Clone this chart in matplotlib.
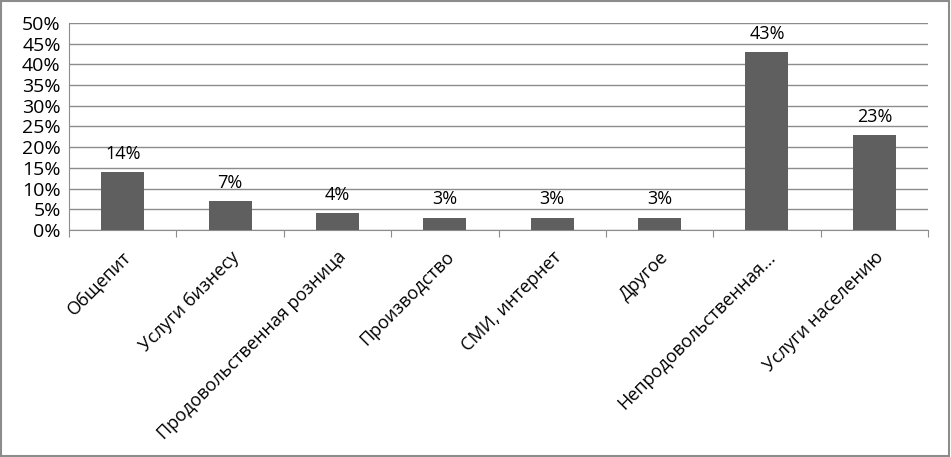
import matplotlib
matplotlib.use('Agg')
import matplotlib.pyplot as plt
from matplotlib.ticker import MultipleLocator, FuncFormatter
from matplotlib.patches import Rectangle

categories = ['Общепит', 'Услуги бизнесу', 'Продовольственная розница',
              'Производство', 'СМИ, интернет', 'Другое',
              'Непродовольственная...', 'Услуги населению']
values = [14, 7, 4, 3, 3, 3, 43, 23]

plt.rcParams['font.family'] = ['Open Sans', 'DejaVu Sans']

fig = plt.figure(figsize=(9.51, 4.57), dpi=100)
ax = fig.add_axes([69/951, 1 - 230/457, (928-69)/951, (230-23)/457])

x = list(range(len(categories)))
bars = ax.bar(x, values, width=0.4, color='#5f5f5f', zorder=3)

for xi, v in zip(x, values):
    ax.text(xi, v + 2.2, f'{v}%', ha='center', va='bottom', fontsize=13)

ax.set_xlim(-0.5, len(categories) - 0.5)
ax.set_ylim(0, 50)
ax.yaxis.set_major_locator(MultipleLocator(5))
ax.yaxis.set_major_formatter(FuncFormatter(lambda v, p: f'{v:.0f}%'))
ax.grid(axis='y', color='#8c8c8c', linewidth=1, zorder=0)
ax.tick_params(axis='y', length=0, labelsize=14, pad=6)

# category ticks sit on the boundaries between categories
ax.set_xticks([i - 0.5 for i in range(len(categories) + 1)], minor=False)
ax.set_xticklabels([])
ax.set_xticks(x, minor=True)
ax.set_xticklabels(categories, minor=True, rotation=45, ha='right',
                   rotation_mode='anchor', fontsize=13)
ax.tick_params(axis='x', which='major', length=5, color='#8c8c8c', direction='out')
ax.tick_params(axis='x', which='minor', length=0, pad=13)

for s in ['top', 'right']:
    ax.spines[s].set_visible(False)
ax.spines['left'].set_color('#8c8c8c')
ax.spines['bottom'].set_color('#8c8c8c')

fig.patches.append(Rectangle((0.001, 0.002), 0.997, 0.996, transform=fig.transFigure,
                             fill=False, edgecolor='#8c8c8c', linewidth=1.5))

fig.savefig('out.png', dpi=100)
